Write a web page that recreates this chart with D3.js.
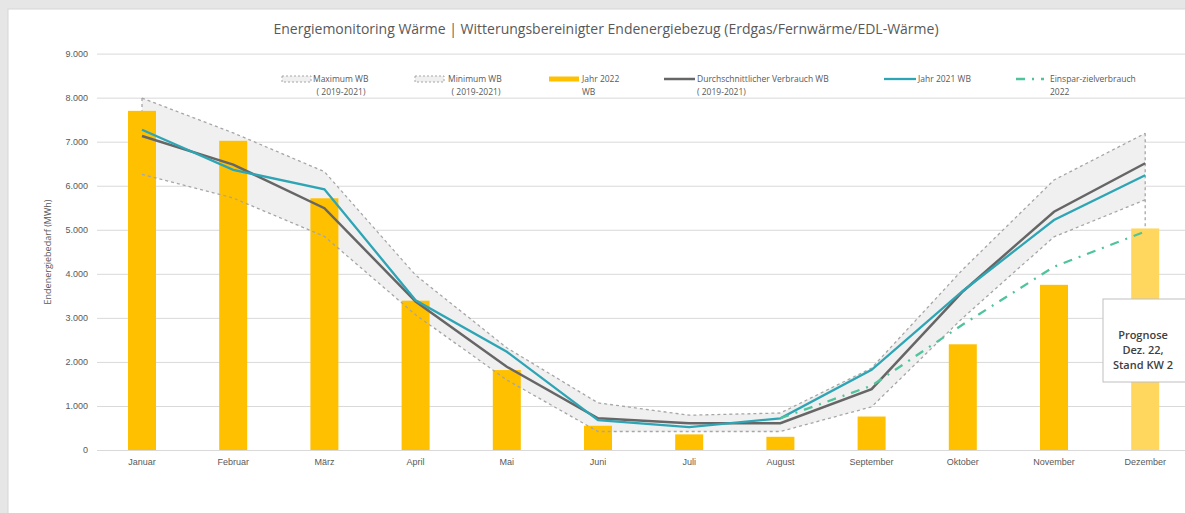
<!DOCTYPE html>
<html>
<head>
<meta charset="utf-8">
<script src="https://cdn.jsdelivr.net/npm/d3@7"></script>
<style>
  body { margin: 0; background: #e6e6e6; }
  svg { display: block; font-family: "Open Sans", "Noto Sans", sans-serif; }
</style>
</head>
<body>
<div id="chart"></div>
<script>
// months on the x axis
var months = ["Januar", "Februar", "März", "April", "Mai", "Juni", "Juli",
  "August", "September", "Oktober", "November", "Dezember"];

// values in MWh
var jahr2022 = [7700, 7020, 5715, 3390, 1815, 550, 355, 300, 760, 2400, 3750, 5030];
var maxWB = [7990, 7200, 6320, 3970, 2320, 1070, 790, 840, 1860, 4100, 6130, 7190];
var minWB = [6260, 5720, 4850, 3070, 1590, 420, 420, 420, 980, 3000, 4840, 5680];
var avgWB = [7130, 6480, 5490, 3370, 1890, 720, 610, 610, 1380, 3600, 5410, 6510];
var jahr2021 = [7270, 6360, 5920, 3400, 2230, 680, 520, 720, 1820, 3610, 5220, 6240];
// savings target only from August on
var zielMonths = ["August", "September", "Oktober", "November", "Dezember"];
var ziel2022 = [720, 1460, 2850, 4160, 4960];
var yTicks = [0, 1000, 2000, 3000, 4000, 5000, 6000, 7000, 8000, 9000];

var W = 1185, H = 513;
var svg = d3.select("#chart").append("svg").attr("width", W).attr("height", H);

// white panel on gray background
svg.append("rect").attr("x", 8).attr("y", 9).attr("width", W).attr("height", H)
  .attr("fill", "#fff").attr("stroke", "#d6d6d6");

var x = d3.scaleBand().domain(months).range([96.4, 1190.8]);
var y = d3.scaleLinear().domain([0, 9000]).range([450, 53.6]);
var cx = function (m) { return x(m) + x.bandwidth() / 2; };
var de = d3.formatLocale({ decimal: ",", thousands: ".", grouping: [3], currency: ["", "€"] });
var fmt = de.format(",");

// gridlines + y axis
var yAxis = svg.append("g").attr("transform", "translate(97,0)")
  .call(d3.axisLeft(y).tickValues(yTicks).tickFormat(fmt).tickSize(-(W - 97)).tickPadding(9));
yAxis.select(".domain").remove();
yAxis.selectAll(".tick line").attr("stroke", "#d9d9d9");
yAxis.selectAll(".tick text").attr("fill", "#595959").attr("font-size", "9px");

// x axis labels
var xAxis = svg.append("g").attr("transform", "translate(0,450)")
  .call(d3.axisBottom(x).tickSize(0).tickPadding(9));
xAxis.select(".domain").remove();
xAxis.selectAll(".tick text").attr("fill", "#595959").attr("font-size", "9px");

// min/max band
var data = months.map(function (m, i) {
  return { m: m, bar: jahr2022[i], max: maxWB[i], min: minWB[i], avg: avgWB[i], y21: jahr2021[i] };
});
svg.append("path").datum(data)
  .attr("d", d3.area().x(function (d) { return cx(d.m); })
    .y0(function (d) { return y(d.min); }).y1(function (d) { return y(d.max); }))
  .attr("fill", "#f0f0f0");

// bars
svg.selectAll("rect.bar").data(data).enter().append("rect").attr("class", "bar")
  .attr("x", function (d) { return cx(d.m) - 14; })
  .attr("y", function (d) { return y(d.bar); })
  .attr("width", 28)
  .attr("height", function (d) { return 450 - y(d.bar); })
  .attr("fill", function (d) { return d.m === "Dezember" ? "#ffd75e" : "#ffc000"; });

// dashed band borders
var lineOf = function (key) {
  return d3.line().x(function (d) { return cx(d.m); }).y(function (d) { return y(d[key]); });
};
["max", "min"].forEach(function (k) {
  svg.append("path").datum(data).attr("d", lineOf(k))
    .attr("fill", "none").attr("stroke", "#a6a6a6").attr("stroke-width", 1.3)
    .attr("stroke-dasharray", "3,3");
});
// vertical drop lines at both ends
[data[0], data[11]].forEach(function (d) {
  svg.append("line").attr("x1", cx(d.m)).attr("x2", cx(d.m))
    .attr("y1", y(d.max)).attr("y2", y(d.bar))
    .attr("stroke", "#a6a6a6").attr("stroke-width", 1.3).attr("stroke-dasharray", "3,3");
});

// average and 2021 lines
svg.append("path").datum(data).attr("d", lineOf("avg"))
  .attr("fill", "none").attr("stroke", "#666666").attr("stroke-width", 2.5);
svg.append("path").datum(data).attr("d", lineOf("y21"))
  .attr("fill", "none").attr("stroke", "#2ea5b5").attr("stroke-width", 2.3);

// savings target line
var zielData = zielMonths.map(function (m, i) { return { m: m, v: ziel2022[i] }; });
svg.append("path").datum(zielData)
  .attr("d", d3.line().x(function (d) { return cx(d.m); }).y(function (d) { return y(d.v); }))
  .attr("fill", "none").attr("stroke", "#4fc49a").attr("stroke-width", 2.3)
  .attr("stroke-dasharray", "9,7,2,7");

// title
svg.append("text").attr("x", 606).attr("y", 34).attr("text-anchor", "middle")
  .attr("fill", "#595959").attr("font-size", "14px")
  .text("Energiemonitoring Wärme | Witterungsbereinigter Endenergiebezug (Erdgas/Fernwärme/EDL-Wärme)");

// y axis title
svg.append("text").attr("transform", "translate(51,252) rotate(-90)")
  .attr("text-anchor", "middle").attr("fill", "#595959").attr("font-size", "9px")
  .text("Endenergiebedarf (MWh)");

// legend
var legend = [
  { x: 282, type: "dashbox", l1: "Maximum WB", l2: "( 2019-2021)", tx: 313 },
  { x: 415, type: "dashbox", l1: "Minimum WB", l2: "( 2019-2021)", tx: 448 },
  { x: 549, type: "bar", l1: "Jahr 2022", l2: "WB", tx: 582, l2x: 582 },
  { x: 664, type: "avg", l1: "Durchschnittlicher Verbrauch WB", l2: "( 2019-2021)", tx: 697, l2x: 697 },
  { x: 884, type: "y21", l1: "Jahr 2021 WB", l2: null, tx: 918 },
  { x: 1016, type: "ziel", l1: "Einspar-zielverbrauch", l2: "2022", tx: 1050, l2x: 1050 }
];
var lg = svg.append("g");
legend.forEach(function (d) {
  if (d.type === "dashbox") {
    lg.append("rect").attr("x", d.x).attr("y", 76).attr("width", 29).attr("height", 6)
      .attr("fill", "#f0f0f0").attr("stroke", "#a6a6a6").attr("stroke-dasharray", "2,2");
  } else if (d.type === "bar") {
    lg.append("line").attr("x1", d.x).attr("x2", d.x + 30).attr("y1", 79).attr("y2", 79)
      .attr("stroke", "#ffc000").attr("stroke-width", 5);
  } else if (d.type === "avg") {
    lg.append("line").attr("x1", d.x).attr("x2", d.x + 31).attr("y1", 79).attr("y2", 79)
      .attr("stroke", "#666666").attr("stroke-width", 2.5);
  } else if (d.type === "y21") {
    lg.append("line").attr("x1", d.x).attr("x2", d.x + 32).attr("y1", 79).attr("y2", 79)
      .attr("stroke", "#2ea5b5").attr("stroke-width", 2.3);
  } else {
    lg.append("line").attr("x1", d.x).attr("x2", d.x + 28).attr("y1", 79).attr("y2", 79)
      .attr("stroke", "#4fc49a").attr("stroke-width", 2.3).attr("stroke-dasharray", "9,7,2,7");
  }
  lg.append("text").attr("x", d.tx).attr("y", 82).attr("fill", "#595959")
    .attr("font-size", "8.5px").text(d.l1);
  if (d.l2) {
    var t = lg.append("text").attr("y", 95).attr("fill", "#595959").attr("font-size", "8.5px").text(d.l2);
    if (d.l2x) t.attr("x", d.l2x);
    else t.attr("x", d.tx + 28).attr("text-anchor", "middle");
  }
});

// annotation box
var ann = svg.append("g");
ann.append("rect").attr("x", 1103).attr("y", 299).attr("width", 84).attr("height", 83)
  .attr("fill", "#fff").attr("stroke", "#bfbfbf");
["Prognose", "Dez. 22,", "Stand KW 2"].forEach(function (s, i) {
  ann.append("text").attr("x", 1143).attr("y", 339 + i * 15).attr("text-anchor", "middle")
    .attr("fill", "#404040").attr("font-size", "11px").attr("font-weight", 600).text(s);
});
</script>
</body>
</html>
